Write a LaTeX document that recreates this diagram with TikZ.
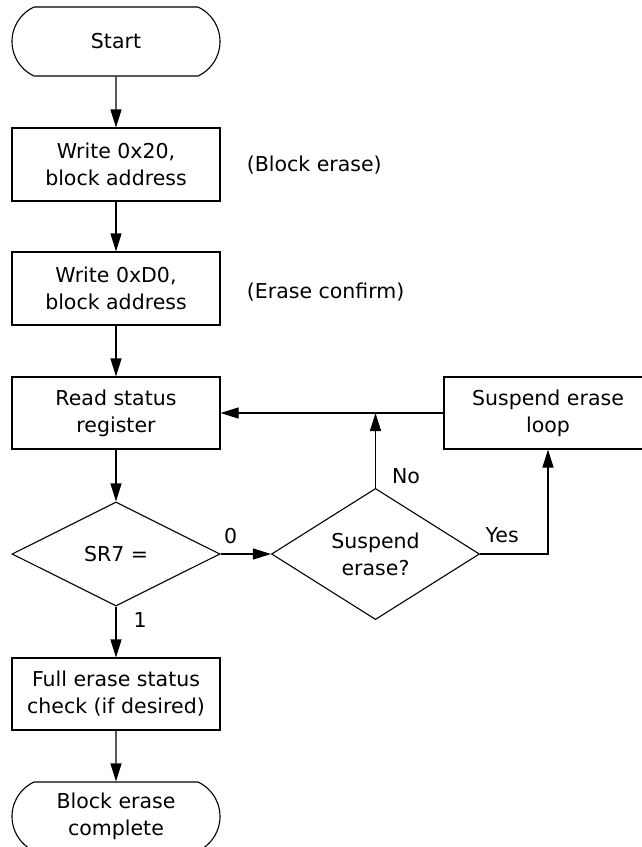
\documentclass[tikz,border=0pt]{standalone}
\usepackage{fontspec}
\setmainfont{DejaVu Sans}
\usetikzlibrary{shapes.geometric,shapes.misc,arrows.meta}
\begin{document}
\begin{tikzpicture}[x=1pt,y=-1pt,line width=1.1pt,
    every node/.style={font=\fontsize{20.5}{27}\selectfont, align=center},
    term/.style={draw, rounded rectangle, rounded rectangle arc length=130,
      minimum width=208pt, minimum height=69pt, inner sep=0pt},
    proc/.style={draw, rectangle, minimum width=208pt, minimum height=73pt, inner sep=0pt},
    dec/.style={draw, diamond, minimum width=208pt, minimum height=104pt, inner sep=0pt},
    flow/.style={-{Triangle[length=18pt,width=11pt]}},
    lbl/.style={inner sep=0pt}]

      \useasboundingbox (0,0) rectangle (642,847);

      % main column
      \node[term] (start) at (116,41.5) {Start};
      \node[proc] (w20) at (116,164.5) {Write 0x20,\\block address};
      \node[proc] (wD0) at (116,288.5) {Write 0xD0,\\block address};
      \node[proc, minimum height=72pt] (rsr) at (116,413) {Read status\\register};
      \node[dec] (sr7) at (116,554) {SR7 =};
      \node[proc, minimum height=72pt] (full) at (116,694) {Full erase status\\check (if desired)};
      \node[term] (done) at (116,816.5) {Block erase\\complete};

      % suspend branch
      \node[dec] (susp) at (375.5,554) {Suspend\\erase?};
      \node[proc, minimum height=72pt] (sel) at (548,413) {Suspend erase\\loop};

      % comments
      \node[anchor=west] (cmt20) at (243,165) {(Block erase)};
      \node[anchor=west] (cmtD0) at (243,292) {(Erase confirm)};

      \draw[flow] (start) -- (w20);
      \draw[flow] (w20) -- (wD0);
      \draw[flow] (wD0) -- (rsr);
      \draw[flow] (rsr) -- (sr7);
      \draw[flow] (sr7.south) -- node[lbl, anchor=north west, pos=0, xshift=17pt, yshift=-5pt] {1} (full.north);
      \draw[flow] (full) -- (done);
      \draw[flow] (sr7.east) -- node[lbl, anchor=south west, pos=0, xshift=3pt, yshift=10pt] {0} (susp.west);
      \draw[flow] (susp.north) -- node[lbl, anchor=south west, pos=0, xshift=16pt, yshift=4pt] {No} (susp.north |- rsr.east);
      \draw[flow] (sel.west) -- (rsr.east);
      \draw[flow] (susp.east) -| node[lbl, anchor=south west, pos=0, xshift=5pt, yshift=11pt] {Yes} (sel.south);

\end{tikzpicture}
\end{document}
